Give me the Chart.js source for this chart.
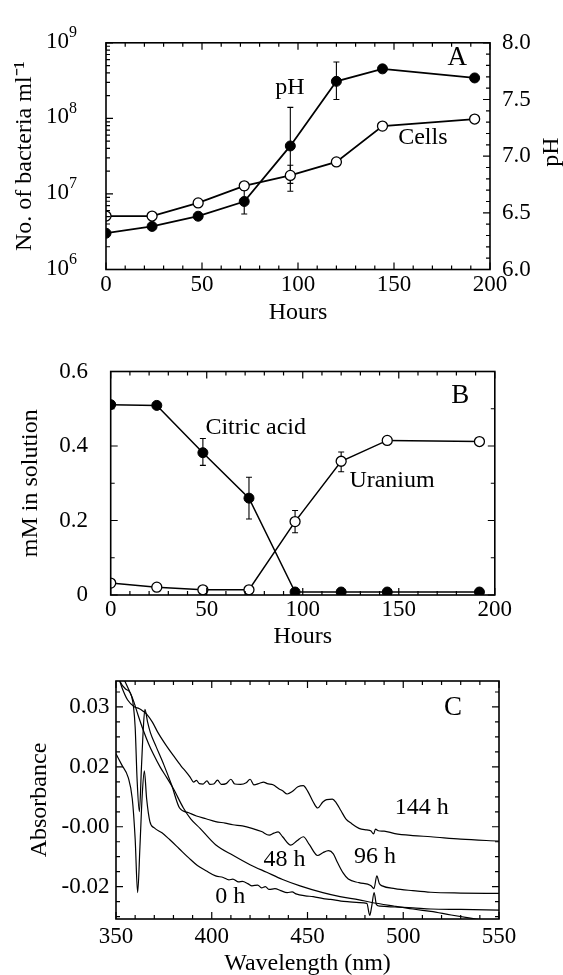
<!DOCTYPE html>
<html>
<head>
<meta charset="utf-8">
<script src="https://cdn.jsdelivr.net/npm/chart.js@4.4.1/dist/chart.umd.min.js"></script>
<style>
    body { margin: 0; background: #fff; width: 563px; height: 975px; position: relative; overflow: hidden; }
    .painel { position: absolute; left: 0; width: 563px; }
</style>
</head>
<body>
<div class="painel" style="top:0px;height:330px"><canvas id="graficoA"></canvas></div>
<div class="painel" style="top:335px;height:316px"><canvas id="graficoB"></canvas></div>
<div class="painel" style="top:651px;height:324px"><canvas id="graficoC"></canvas></div>
<script>
// dados lidos da figura
// painel A: células e pH ao longo do tempo
var horas = [0, 24, 48, 72, 96, 120, 144, 192];
var celulas = [5.1e6, 5.1e6, 7.6e6, 1.28e7, 1.76e7, 2.65e7, 7.9e7, 9.8e7];
var celulasErroSup = [null, null, null, null, 2.4e7, null, null, null];
var celulasErroInf = [null, null, null, null, 1.38e7, null, null, null];
var ph = [6.32, 6.38, 6.47, 6.60, 7.09, 7.66, 7.77, 7.69];
var phErroSup = [null, null, null, 6.70, 7.43, 7.83, null, null];
var phErroInf = [null, null, null, 6.49, 6.69, 7.50, null, null];
var ticksHoras = [0, 50, 100, 150, 200];
var ticksCelulas = [1e6, 1e7, 1e8, 1e9];
var expoentesCelulas = ['6', '7', '8', '9'];
var ticksPh = [6.0, 6.5, 7.0, 7.5, 8.0];
var rotulosPh = ['6.0', '6.5', '7.0', '7.5', '8.0'];

// painel B: ácido cítrico e urânio em solução
var acidoCitrico = [0.511, 0.509, 0.382, 0.260, 0.008, 0.008, 0.008, 0.008];
var citricoErroSup = [null, null, 0.420, 0.316, null, null, null, null];
var citricoErroInf = [null, null, 0.348, 0.204, null, null, null, null];
var uranio = [0.032, 0.021, 0.014, 0.014, 0.197, 0.359, 0.415, 0.412];
var uranioErroSup = [null, null, null, null, 0.227, 0.384, null, null];
var uranioErroInf = [null, null, null, null, 0.167, 0.331, null, null];
var ticksMm = [0, 0.2, 0.4, 0.6];
var rotulosMm = ['0', '0.2', '0.4', '0.6'];

// painel C: espectros de absorbância
var comp0h = [350, 353, 356.4, 358.5, 360, 361.3, 362.5, 363.7, 364.8, 366, 367.7, 370, 374, 378, 383, 388, 392.5, 397, 402, 406, 409, 411, 414, 416, 419, 421, 424, 426, 428, 430, 433, 436, 439.4, 442, 444, 448.8, 453, 458.2, 462, 467.5, 472, 477, 481, 482.5, 483.5, 484.8, 486, 488, 495.6, 505, 514.4, 530, 550];
var abs0h = [0.0183, 0.0155, 0.0123, 0.0070, -0.0030, -0.0165, -0.0050, 0.0080, 0.0140, 0.0070, 0.0013, -0.0003, -0.0015, -0.0032, -0.0055, -0.0078, -0.0097, -0.0110, -0.0123, -0.0127, -0.0133, -0.0131, -0.0138, -0.0137, -0.0143, -0.0148, -0.0146, -0.0153, -0.0150, -0.0157, -0.0155, -0.0160, -0.0165, -0.0163, -0.0168, -0.0173, -0.0175, -0.0180, -0.0182, -0.0186, -0.0188, -0.0190, -0.0192, -0.0222, -0.0200, -0.0165, -0.0195, -0.0199, -0.0201, -0.0203, -0.0206, -0.0207, -0.0209];
var comp48h = [351, 354.7, 357, 359, 361.5, 364.3, 367, 369.5, 373, 376.5, 380, 385.2, 389, 393.9, 402, 411.3, 420, 428.7, 437, 446.1, 458, 467, 477, 483, 495.6, 505, 514.4, 525, 538, 550];
var abs48h = [0.0400, 0.0364, 0.0340, 0.0317, 0.0280, 0.0241, 0.0208, 0.0182, 0.0150, 0.0123, 0.0095, 0.0047, 0.0020, -0.0004, -0.0045, -0.0072, -0.0095, -0.0114, -0.0132, -0.0148, -0.0165, -0.0175, -0.0183, -0.0189, -0.0199, -0.0206, -0.0212, -0.0221, -0.0231, -0.0240];
var comp96h = [351, 352.1, 355, 358.2, 360, 361, 362.2, 363.3, 364.3, 365.1, 366.5, 368, 371, 375, 379, 383.2, 388, 392, 397, 402, 407, 411, 416, 421, 426, 430, 432.5, 434.7, 437, 441.3, 444.5, 447.8, 451, 455.3, 458, 461, 463.5, 465.6, 468.5, 471.3, 476.9, 483, 484.7, 486.2, 487.5, 489, 495.6, 505, 514.4, 530, 550];
var abs96h = [0.0380, 0.0364, 0.0345, 0.0326, 0.0250, 0.0120, 0.0038, 0.0150, 0.0250, 0.0294, 0.0262, 0.0235, 0.0200, 0.0155, 0.0105, 0.0047, 0.0035, 0.0027, 0.0020, 0.0013, 0.0009, 0.0005, 0.0002, -0.0004, -0.0012, -0.0021, -0.0016, -0.0013, -0.0025, -0.0046, -0.0035, -0.0025, -0.0045, -0.0072, -0.0065, -0.0060, -0.0068, -0.0089, -0.0115, -0.0131, -0.0140, -0.0147, -0.0155, -0.0123, -0.0142, -0.0148, -0.0155, -0.0160, -0.0164, -0.0166, -0.0167];
var comp144h = [351, 353, 356, 359.7, 362, 364, 366, 369, 372, 376, 380, 384, 387, 389, 390.5, 392, 393.5, 395.5, 397.5, 399, 401, 403, 405, 407.5, 410, 412, 415, 418, 420, 422, 425, 427, 429, 432, 435, 437, 439.4, 442, 445, 447.8, 450, 453, 455.3, 458, 460, 463, 465, 467.5, 470, 473, 476.9, 481, 483, 484.5, 485.5, 487, 490, 495.6, 505, 514.4, 530, 550];
var abs144h = [0.0380, 0.0350, 0.0318, 0.0300, 0.0296, 0.0290, 0.0282, 0.0262, 0.0235, 0.0205, 0.0178, 0.0152, 0.0135, 0.0122, 0.0112, 0.0116, 0.0108, 0.0107, 0.0115, 0.0106, 0.0107, 0.0117, 0.0106, 0.0108, 0.0119, 0.0107, 0.0106, 0.0110, 0.0119, 0.0105, 0.0109, 0.0112, 0.0108, 0.0105, 0.0095, 0.0090, 0.0082, 0.0088, 0.0100, 0.0103, 0.0090, 0.0062, 0.0047, 0.0062, 0.0068, 0.0069, 0.0060, 0.0040, 0.0020, 0.0008, -0.0004, -0.0008, -0.0010, -0.0018, -0.0006, -0.0010, -0.0011, -0.0017, -0.0022, -0.0025, -0.0031, -0.0036];
var ticksOnda = [350, 400, 450, 500, 550];
var rotulosOnda = ['350', '400', '450', '500', '550'];
var ticksAbs = [-0.015, 0, 0.015, 0.03];
var rotulosAbs = ['-0.02', '-0.00', '0.02', '0.03'];

var fonte = "'Liberation Serif', 'Times New Roman', serif";
Chart.defaults.font.family = fonte;
Chart.defaults.color = '#000';

function pares(xs, ys) {
    return xs.map(function (x, i) { return { x: x, y: ys[i] }; });
}

function sequencia(ini, fim, passo) {
    var r = [];
    for (var v = ini; v <= fim + 1e-9; v += passo) r.push(+v.toFixed(6));
    return r;
}

// marcas para dentro do quadro + moldura
function desenharMarcas(chart, lista) {
    var ctx = chart.ctx, area = chart.chartArea;
    ctx.save();
    ctx.strokeStyle = '#000';
    ctx.lineWidth = 1.2;
    ctx.beginPath();
    lista.forEach(function (m) {
        var escala = chart.scales[m.eixo];
        m.valores.forEach(function (v) {
            var p = escala.getPixelForValue(v);
            if (escala.isHorizontal()) {
                if (m.lados.indexOf('b') >= 0) { ctx.moveTo(p, area.bottom); ctx.lineTo(p, area.bottom - m.tam); }
                if (m.lados.indexOf('t') >= 0) { ctx.moveTo(p, area.top); ctx.lineTo(p, area.top + m.tam); }
            } else {
                if (m.lados.indexOf('l') >= 0) { ctx.moveTo(area.left, p); ctx.lineTo(area.left + m.tam, p); }
                if (m.lados.indexOf('r') >= 0) { ctx.moveTo(area.right, p); ctx.lineTo(area.right - m.tam, p); }
            }
        });
    });
    ctx.stroke();
    ctx.lineWidth = 1.6;
    ctx.strokeRect(area.left, area.top, area.right - area.left, area.bottom - area.top);
    ctx.restore();
}

function desenharErros(chart, eixoY, xs, sup, inf) {
    var ctx = chart.ctx, ex = chart.scales.x, ey = chart.scales[eixoY];
    ctx.save();
    ctx.strokeStyle = '#000';
    ctx.lineWidth = 1.1;
    ctx.beginPath();
    xs.forEach(function (h, i) {
        if (sup[i] == null) return;
        var px = ex.getPixelForValue(h);
        var p1 = ey.getPixelForValue(sup[i]);
        var p2 = ey.getPixelForValue(inf[i]);
        ctx.moveTo(px, p1); ctx.lineTo(px, p2);
        ctx.moveTo(px - 3, p1); ctx.lineTo(px + 3, p1);
        ctx.moveTo(px - 3, p2); ctx.lineTo(px + 3, p2);
    });
    ctx.stroke();
    ctx.restore();
}

function escrever(chart, eixoY, textos) {
    var ctx = chart.ctx, ex = chart.scales.x, ey = chart.scales[eixoY];
    ctx.save();
    ctx.fillStyle = '#000';
    ctx.textAlign = 'center';
    ctx.textBaseline = 'middle';
    textos.forEach(function (t) {
        ctx.font = (t.tam || 24) + 'px ' + fonte;
        ctx.fillText(t.texto, ex.getPixelForValue(t.x), ey.getPixelForValue(t.y));
    });
    ctx.restore();
}

function eixoX(min, max, ticks, rotulos, titulo, alturaEixo, padTick, padTitulo) {
    return {
        type: 'linear', min: min, max: max,
        afterFit: function (s) { s.height = alturaEixo; },
        afterBuildTicks: function (s) { s.ticks = ticks.map(function (v) { return { value: v }; }); },
        grid: { display: false, drawTicks: false },
        border: { display: false },
        ticks: {
            padding: padTick, font: { size: 23 }, color: '#000', maxRotation: 0, autoSkip: false,
            callback: function (v, i) { return rotulos[i]; }
        },
        title: { display: true, text: titulo, font: { size: 24 }, color: '#000', padding: { top: 0, bottom: padTitulo } }
    };
}

function eixoY(tipo, pos, min, max, ticks, rotulos, largura, padTick, titulo, padTitulo) {
    return {
        type: tipo, position: pos, min: min, max: max,
        afterFit: function (s) { s.width = largura; },
        afterBuildTicks: function (s) { s.ticks = ticks.map(function (v) { return { value: v }; }); },
        grid: { display: false, drawTicks: false },
        border: { display: false },
        ticks: {
            padding: padTick, font: { size: 23 }, color: '#000', autoSkip: false,
            callback: function (v, i) { return rotulos ? rotulos[i] : ''; }
        },
        title: { display: !!titulo, text: titulo, font: { size: 24 }, color: '#000', padding: { top: padTitulo, bottom: 0 } }
    };
}

function baseOpcoes(pad, escalas) {
    return {
        responsive: true,
        maintainAspectRatio: false,
        animation: false,
        layout: { padding: pad },
        plugins: { legend: { display: false }, tooltip: { enabled: false } },
        scales: escalas
    };
}

// marcas menores do eixo log
var menoresLog = [];
[1e6, 1e7, 1e8].forEach(function (d) { for (var k = 2; k <= 9; k++) menoresLog.push(k * d); });

// gráfico A
new Chart(document.getElementById('graficoA'), {
    type: 'line',
    data: {
        datasets: [{
            label: 'Cells',
            data: pares(horas, celulas),
            yAxisID: 'yCel',
            borderColor: '#000', borderWidth: 1.8,
            pointRadius: 5, pointBackgroundColor: '#fff', pointBorderColor: '#000', pointBorderWidth: 1.3
        }, {
            label: 'pH',
            data: pares(horas, ph),
            yAxisID: 'yPh',
            borderColor: '#000', borderWidth: 1.8,
            pointRadius: 5, pointBackgroundColor: '#000', pointBorderColor: '#000', pointBorderWidth: 1
        }]
    },
    options: baseOpcoes({ top: 33, left: 0, right: 0, bottom: 0 }, {
        x: eixoX(0, 200, ticksHoras, ['0', '50', '100', '150', '200'], 'Hours', 60.5, 2, 2.6),
        yCel: eixoY('logarithmic', 'left', 1e6, 1e9, ticksCelulas, null, 106, 29, 'No. of bacteria ml\u207B\u00B9', 10.6),
        yPh: eixoY('linear', 'right', 6, 8, ticksPh, rotulosPh, 73, 12, '', 0)
    }),
    plugins: [{
        id: 'extrasA',
        beforeDatasetsDraw: function (chart) {
            desenharErros(chart, 'yPh', horas, phErroSup, phErroInf);
            desenharErros(chart, 'yCel', horas, celulasErroSup, celulasErroInf);
        },
        afterDraw: function (chart) {
            desenharMarcas(chart, [
                { eixo: 'x', valores: ticksHoras, tam: 7, lados: 'bt' },
                { eixo: 'x', valores: sequencia(10, 190, 10), tam: 4, lados: 'bt' },
                { eixo: 'yCel', valores: ticksCelulas, tam: 7, lados: 'l' },
                { eixo: 'yCel', valores: menoresLog, tam: 4, lados: 'l' },
                { eixo: 'yPh', valores: ticksPh, tam: 7, lados: 'r' },
                { eixo: 'yPh', valores: sequencia(6.1, 7.9, 0.1), tam: 4, lados: 'r' }
            ]);
            escrever(chart, 'yPh', [
                { texto: 'A', x: 183, y: 7.87, tam: 27 },
                { texto: 'pH', x: 95.8, y: 7.6 },
                { texto: 'Cells', x: 165, y: 7.16 }
            ]);
            var ctx = chart.ctx, area = chart.chartArea, ey = chart.scales.yCel;
            ctx.save();
            ctx.fillStyle = '#000';
            // rótulos 10^n com expoente maior que o unicode
            ctx.textAlign = 'right';
            ctx.textBaseline = 'middle';
            ticksCelulas.forEach(function (v, i) {
                var py = ey.getPixelForValue(v);
                var xDir = area.left - 29;
                ctx.font = '16px ' + fonte;
                var larg = ctx.measureText(expoentesCelulas[i]).width;
                ctx.fillText(expoentesCelulas[i], xDir, py - 10);
                ctx.font = '23px ' + fonte;
                ctx.fillText('10', xDir - larg, py - 1);
            });
            // título do eixo direito, girado como o da esquerda
            ctx.font = '24px ' + fonte;
            ctx.textAlign = 'center';
            ctx.translate(area.right + 62, (area.top + area.bottom) / 2 - 4);
            ctx.rotate(-Math.PI / 2);
            ctx.fillText('pH', 0, 0);
            ctx.restore();
        }
    }]
});

// gráfico B
new Chart(document.getElementById('graficoB'), {
    type: 'line',
    data: {
        datasets: [{
            label: 'Citric acid',
            data: pares(horas, acidoCitrico),
            borderColor: '#000', borderWidth: 1.5,
            pointRadius: 5, pointBackgroundColor: '#000', pointBorderColor: '#000', pointBorderWidth: 1
        }, {
            label: 'Uranium',
            data: pares(horas, uranio),
            borderColor: '#000', borderWidth: 1.5,
            pointRadius: 5, pointBackgroundColor: '#fff', pointBorderColor: '#000', pointBorderWidth: 1.3
        }]
    },
    options: baseOpcoes({ top: 24.3, left: 0, right: 68.2, bottom: 0 }, {
        x: eixoX(0, 200, ticksHoras, ['0', '50', '100', '150', '200'], 'Hours', 56, 1.5, 0),
        y: eixoY('linear', 'left', 0, 0.6, ticksMm, rotulosMm, 110.7, 22.7, 'mM in solution', 16)
    }),
    plugins: [{
        id: 'extrasB',
        beforeDatasetsDraw: function (chart) {
            desenharErros(chart, 'y', horas, citricoErroSup, citricoErroInf);
            desenharErros(chart, 'y', horas, uranioErroSup, uranioErroInf);
        },
        afterDraw: function (chart) {
            desenharMarcas(chart, [
                { eixo: 'x', valores: ticksHoras, tam: 7, lados: 'bt' },
                { eixo: 'x', valores: sequencia(10, 190, 10), tam: 4, lados: 'bt' },
                { eixo: 'y', valores: ticksMm, tam: 7, lados: 'lr' },
                { eixo: 'y', valores: [0.1, 0.3, 0.5], tam: 4, lados: 'lr' }
            ]);
            escrever(chart, 'y', [
                { texto: 'B', x: 182, y: 0.535, tam: 27 },
                { texto: 'Citric acid', x: 75.5, y: 0.448 },
                { texto: 'Uranium', x: 146.5, y: 0.308 }
            ]);
        }
    }]
});

// gráfico C
function curva(xs, ys) {
    return {
        data: pares(xs, ys),
        borderColor: '#000', borderWidth: 1.2,
        pointRadius: 0, cubicInterpolationMode: 'monotone'
    };
}

new Chart(document.getElementById('graficoC'), {
    type: 'line',
    data: {
        datasets: [curva(comp0h, abs0h), curva(comp48h, abs48h), curva(comp96h, abs96h), curva(comp144h, abs144h)]
    },
    options: baseOpcoes({ top: 30, left: 0, right: 64, bottom: -3 }, {
        x: eixoX(350, 550, ticksOnda, rotulosOnda, 'Wavelength (nm)', 59, 4, 0),
        y: eixoY('linear', 'left', -0.0231, 0.0365, ticksAbs, rotulosAbs, 116, 6.5, 'Absorbance', 25.6)
    }),
    plugins: [{
        id: 'extrasC',
        afterDraw: function (chart) {
            desenharMarcas(chart, [
                { eixo: 'x', valores: ticksOnda, tam: 7, lados: 'bt' },
                { eixo: 'x', valores: sequencia(360, 540, 10), tam: 4, lados: 'bt' },
                { eixo: 'y', valores: ticksAbs, tam: 7, lados: 'lr' },
                { eixo: 'y', valores: sequencia(-0.0225, 0.0345, 0.00375), tam: 4, lados: 'lr' }
            ]);
            escrever(chart, 'y', [
                { texto: 'C', x: 526, y: 0.0297, tam: 27 },
                { texto: '144 h', x: 509.7, y: 0.0048 },
                { texto: '48 h', x: 438, y: -0.0082 },
                { texto: '96 h', x: 485.3, y: -0.0074 },
                { texto: '0 h', x: 409.7, y: -0.0175 }
            ]);
        }
    }]
});
</script>
</body>
</html>
